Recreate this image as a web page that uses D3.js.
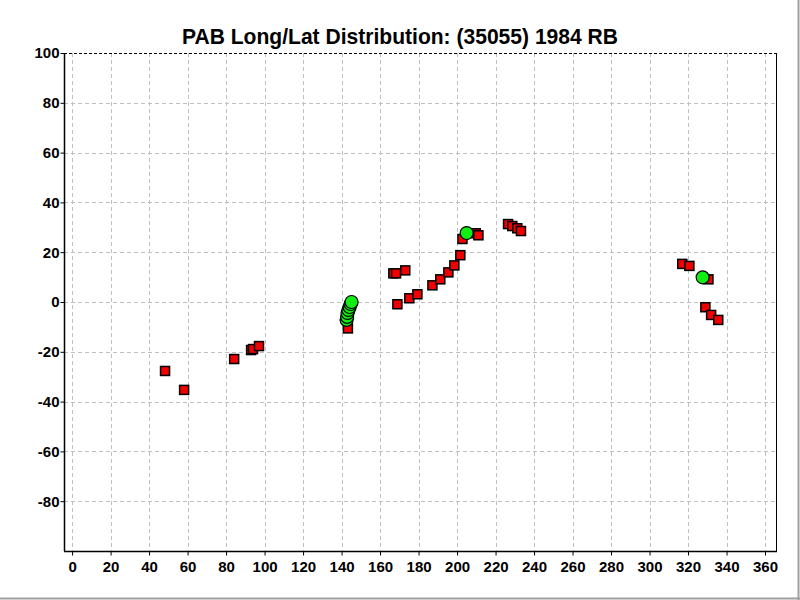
<!DOCTYPE html>
<html><head><meta charset="utf-8">
<script src="https://cdn.jsdelivr.net/npm/d3@7"></script>
<style>body{margin:0;background:#fff}svg{display:block}</style>
</head><body>
<svg id="c" width="800" height="600"></svg>
<script>
const title = "PAB Long/Lat Distribution: (35055) 1984 RB";
const xTicks = d3.range(0, 361, 20);
const yTicks = [-80, -60, -40, -20, 0, 20, 40, 60, 80, 100];
// red squares: [longitude, latitude]
const redLon = [48.3, 58.2, 84.2, 93.0, 94.0, 97.1, 143.3,
  166.9, 168.3, 173.1, 169.0, 175.2, 179.4, 187.2, 191.3, 195.5, 198.6, 201.7, 202.8, 209.7, 211.1,
  226.5, 228.7, 231.3, 233.2,
  317.0, 320.7, 330.6, 329.0, 332.0, 335.7];
const redLat = [-27.7, -35.3, -22.9, -19.3, -18.9, -17.7, -10.6,
  11.5, 11.5, 12.7, -0.9, 1.5, 3.1, 6.7, 9.1, 11.9, 14.7, 18.8, 25.3, 27.6, 26.8,
  31.3, 30.5, 29.6, 28.5,
  15.3, 14.5, 9.1, -2.1, -5.2, -7.2];
// green circles
const greenLon = [142.6, 142.9, 143.1, 143.6, 144.2, 144.7, 145.2, 205.0, 327.6];
const greenLat = [-7.2, -6.0, -4.4, -3.2, -2.0, -0.8, 0.0, 27.7, 9.9];

const svg = d3.select("#c");
const L = 64, R = 776, T = 53, B = 551;
const x = d3.scaleLinear().domain([-4.2, 365.7]).range([L, R]);
const y = d3.scaleLinear().domain([-100, 100]).range([B, T]);
const font = "'Liberation Sans', Arial, sans-serif";

// outer frame (right/bottom)
svg.append("line").attr("x1", 798.5).attr("x2", 798.5).attr("y1", 0).attr("y2", 600).attr("stroke", "#a0a0a0").attr("stroke-width", 2);
svg.append("line").attr("x1", 0).attr("x2", 800).attr("y1", 598.5).attr("y2", 598.5).attr("stroke", "#a0a0a0").attr("stroke-width", 2);

// grid
const g = svg.append("g");
g.selectAll(".vg").data(xTicks).join("line")
  .attr("x1", d => Math.round(x(d)) + 0.5).attr("x2", d => Math.round(x(d)) + 0.5)
  .attr("y1", T).attr("y2", B).attr("stroke", "#c0c0c0").attr("stroke-dasharray", "4,3");
g.selectAll(".hg").data(yTicks.filter(d => d < 100)).join("line")
  .attr("x1", L).attr("x2", R)
  .attr("y1", d => Math.round(y(d)) + 0.5).attr("y2", d => Math.round(y(d)) + 0.5)
  .attr("stroke", "#c0c0c0").attr("stroke-dasharray", "4,3");
// top dashed border
svg.append("line").attr("x1", L).attr("x2", R).attr("y1", T + 0.5).attr("y2", T + 0.5)
  .attr("stroke", "#000").attr("stroke-dasharray", "3,2");
// right solid border
svg.append("line").attr("x1", R + 0.5).attr("x2", R + 0.5).attr("y1", T).attr("y2", B).attr("stroke", "#000");

// axes
const fmt = d => String(d);
const xAxis = svg.append("g").attr("transform", `translate(0,${B + 0.5})`)
  .call(d3.axisBottom(x).tickValues(xTicks).tickFormat(fmt).tickSize(4).tickSizeOuter(0).tickPadding(6));
const yAxis = svg.append("g").attr("transform", `translate(${L + 0.5},0)`)
  .call(d3.axisLeft(y).tickValues(yTicks).tickFormat(fmt).tickSize(4).tickSizeOuter(0).tickPadding(1));
[xAxis, yAxis].forEach(a => {
  a.select(".domain").attr("stroke", "#000").attr("stroke-width", 1.5);
  a.selectAll(".tick line").attr("stroke", "#000");
  a.selectAll("text").attr("font-family", font).attr("font-size", 15).attr("font-weight", "bold").attr("fill", "#000");
});
xAxis.select(".domain").attr("d", `M${L},0H${R + 1}`);
yAxis.select(".domain").attr("d", `M0,${T}V${B}`);

// red squares
const S = 9;
svg.append("g").selectAll("rect").data(redLon.map((d, i) => [d, redLat[i]])).join("rect")
  .attr("x", d => x(d[0]) - S / 2).attr("y", d => y(d[1]) - S / 2)
  .attr("width", S).attr("height", S)
  .attr("fill", "#f00000").attr("stroke", "#000").attr("stroke-width", 1.5);
// green circles
svg.append("g").selectAll("circle").data(greenLon.map((d, i) => [d, greenLat[i]])).join("circle")
  .attr("cx", d => x(d[0])).attr("cy", d => y(d[1])).attr("r", 6.5)
  .attr("fill", "#11ee11").attr("stroke", "#000").attr("stroke-width", 1.2);

// title
svg.append("text").attr("x", 400).attr("y", 43.5).attr("text-anchor", "middle")
  .attr("font-family", font).attr("font-size", 22).attr("font-weight", "bold")
  .attr("textLength", 436).attr("lengthAdjust", "spacingAndGlyphs").text(title);
</script>
</body></html>
